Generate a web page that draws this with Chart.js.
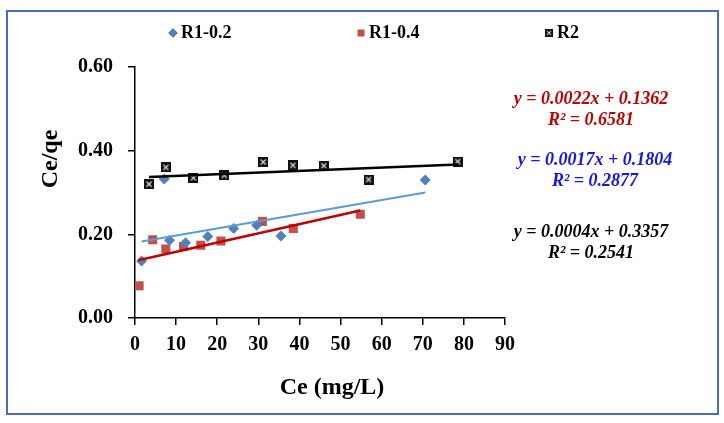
<!DOCTYPE html>
<html>
<head>
<meta charset="utf-8">
<script src="https://cdn.jsdelivr.net/npm/chart.js@4.4.0/dist/chart.umd.min.js"></script>
<style>
  html, body { margin: 0; padding: 0; background: #fff; }
  #wrap { position: relative; width: 724px; height: 423px; }
  #frame { position: absolute; left: 6px; top: 10px; width: 709px; height: 401px; border: 2.5px solid #4A6BBE; pointer-events: none; }
</style>
</head>
<body>
<div id="wrap">
  <canvas id="myChart" width="724" height="423"></canvas>
  <div id="frame"></div>
</div>
<script>
// values
const r1_02 = [
  {x: 1.6, y: 0.136}, {x: 7.1, y: 0.332}, {x: 8.4, y: 0.186}, {x: 12.3, y: 0.180},
  {x: 17.7, y: 0.195}, {x: 24.0, y: 0.214}, {x: 29.6, y: 0.222}, {x: 35.5, y: 0.196},
  {x: 70.6, y: 0.330}
];
const r1_04 = [
  {x: 1.0, y: 0.077}, {x: 4.3, y: 0.187}, {x: 7.5, y: 0.165}, {x: 11.8, y: 0.171},
  {x: 16.0, y: 0.174}, {x: 20.9, y: 0.184}, {x: 31.0, y: 0.231}, {x: 38.5, y: 0.214},
  {x: 54.8, y: 0.248}
];
const r2 = [
  {x: 3.4, y: 0.320}, {x: 7.5, y: 0.360}, {x: 14.2, y: 0.335}, {x: 21.7, y: 0.341},
  {x: 31.2, y: 0.373}, {x: 38.4, y: 0.365}, {x: 45.9, y: 0.364}, {x: 56.8, y: 0.331},
  {x: 78.5, y: 0.374}
];
// trend line ends
const trend02 = [{x: 1.6, y: 0.183}, {x: 70.6, y: 0.300}];
const trend04 = [{x: 0.8, y: 0.138}, {x: 54.8, y: 0.257}];
const trendR2 = [{x: 3.4, y: 0.337}, {x: 78.5, y: 0.367}];

const seriesNames = ["R1-0.2", "R1-0.4", "R2"];
const equations = [
  ["y = 0.0022x + 0.1362", "R\u00B2 = 0.6581"],
  ["y = 0.0017x + 0.1804", "R\u00B2 = 0.2877"],
  ["y = 0.0004x + 0.3357", "R\u00B2 = 0.2541"]
];
const xTitle = "Ce (mg/L)";
const yTitle = "Ce/qe";

const serif = '"Liberation Serif", "Times New Roman", serif';

// black square with white cross for R2
const r2Marker = document.createElement('canvas');
r2Marker.width = 10; r2Marker.height = 10;
(function () {
  const c = r2Marker.getContext('2d');
  c.fillStyle = '#111';
  c.fillRect(0, 0, 10, 10);
  c.strokeStyle = '#ddd';
  c.lineWidth = 1.2;
  c.beginPath();
  c.moveTo(2.5, 2.5); c.lineTo(7.5, 7.5);
  c.moveTo(7.5, 2.5); c.lineTo(2.5, 7.5);
  c.stroke();
})();

const extras = {
  id: 'extras',
  afterDraw(chart) {
    const ctx = chart.ctx;
    ctx.save();
    // legend
    ctx.font = 'bold 18px ' + serif;
    ctx.textBaseline = 'middle';
    ctx.textAlign = 'left';
    ctx.fillStyle = '#000';
    const lx = [173, 361, 549];
    const ly = 33;
    Chart.helpers.drawPoint(ctx, {pointStyle: 'rectRot', radius: 4.5, borderWidth: 0}, lx[0], ly);
    ctx.fillStyle = '#4F81BD'; ctx.fill();
    ctx.fillStyle = '#C0504D';
    ctx.fillRect(lx[1] - 3.5, ly - 3.5, 7, 7);
    ctx.drawImage(r2Marker, lx[2] - 4, ly - 4, 8, 8);
    ctx.fillStyle = '#000';
    seriesNames.forEach((n, i) => ctx.fillText(n, lx[i] + 8, ly));

    // equations
    ctx.font = 'italic bold 18px ' + serif;
    ctx.textAlign = 'center';
    const eqColors = ['#C00000', '#1515E6', '#000000'];
    const eqX = [591, 595, 591];
    const eqY = [[99, 120], [160, 181], [232, 253]];
    equations.forEach((e, i) => {
      ctx.fillStyle = eqColors[i];
      ctx.fillText(e[0], eqX[i], eqY[i][0]);
      ctx.fillText(e[1], eqX[i], eqY[i][1]);
    });

    // axis titles
    ctx.fillStyle = '#000';
    ctx.font = 'bold 24px ' + serif;
    ctx.fillText(xTitle, 332, 388);
    ctx.translate(51, 159);
    ctx.rotate(-Math.PI / 2);
    ctx.fillText(yTitle, 0, 0);
    ctx.restore();
  }
};

new Chart(document.getElementById('myChart'), {
  type: 'scatter',
  data: {
    datasets: [
      {label: 'trend R1-0.2', data: trend02, showLine: true, borderColor: '#5B9BD5', borderWidth: 2, pointRadius: 0},
      {label: 'trend R1-0.4', data: trend04, showLine: true, borderColor: '#C00000', borderWidth: 2.5, pointRadius: 0},
      {label: 'trend R2', data: trendR2, showLine: true, borderColor: '#000', borderWidth: 2.5, pointRadius: 0},
      {label: seriesNames[0], data: r1_02, pointStyle: 'rectRot', pointRadius: 5.5, backgroundColor: '#4F81BD', borderWidth: 0},
      {label: seriesNames[1], data: r1_04, pointStyle: 'rect', pointRadius: 6.4, backgroundColor: '#C0504D', borderWidth: 0},
      {label: seriesNames[2], data: r2, pointStyle: r2Marker, pointRadius: 5, backgroundColor: '#111', borderWidth: 0}
    ]
  },
  options: {
    responsive: false,
    animation: false,
    layout: {padding: {top: 67, right: 219, bottom: 0, left: 0}},
    plugins: {legend: {display: false}, tooltip: {enabled: false}},
    scales: {
      x: {
        type: 'linear', min: 0, max: 90,
        afterFit(s) { s.height = 105; },
        ticks: {stepSize: 10, padding: 8, color: '#000', font: {family: serif, size: 20, weight: 'bold'}},
        grid: {drawOnChartArea: false, drawTicks: true, tickLength: 7, color: '#000', lineWidth: 1.5},
        border: {color: '#000', width: 1.5}
      },
      y: {
        min: 0, max: 0.6,
        afterFit(s) { s.width = 135; },
        ticks: {stepSize: 0.2, padding: 15, color: '#000', font: {family: serif, size: 20, weight: 'bold'},
          callback: v => v.toFixed(2)},
        grid: {drawOnChartArea: false, drawTicks: true, tickLength: 7, color: '#000', lineWidth: 1.5},
        border: {color: '#000', width: 1.5}
      }
    }
  },
  plugins: [extras]
});
</script>
</body>
</html>
